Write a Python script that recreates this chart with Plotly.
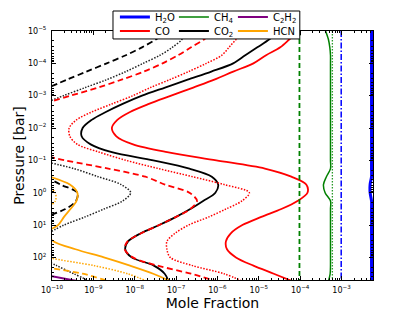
import plotly.graph_objects as go

# ---------------- data ----------------
pressure_bar = [1e-5, 1.8e-5, 3.2e-5, 5.6e-5, 1e-4, 1.8e-4, 3.2e-4, 5.6e-4,
                1e-3, 1.8e-3, 3.2e-3, 5.6e-3, 1e-2, 1.8e-2, 3.2e-2, 5.6e-2,
                0.1, 0.18, 0.32, 0.56, 1.0, 1.8, 3.2, 5.6,
                10, 18, 32, 56, 100, 180, 320, 560]
pressure_ends = [1e-5, 560]

co_solid = [9.0e-5, 5.5e-5, 3.3e-5, 1.5e-5, 7.4e-6, 2.4e-6, 8.4e-7, 2.6e-7,
            7.6e-8, 2.2e-8, 7.7e-9, 3.8e-9, 2.8e-9, 3.6e-9, 9.1e-9, 6.1e-8,
            9.4e-7, 1.4e-5, 6.1e-5, 1.4e-4, 1.5e-4, 8.6e-5, 3.5e-5, 1.15e-5,
            4.0e-6, 2.1e-6, 1.6e-6, 1.7e-6, 2.8e-6, 7.4e-6, 2.3e-5, 6.8e-5]
co_dashed = [8.9e-7, 4.8e-7, 2.3e-7, 1.12e-7, 4.7e-8, 1.66e-8, 4.8e-9, 1.32e-9,
             2.8e-10, 6e-11, None, None, None, None, None, 3e-11,
             2.1e-10, 2.3e-9, 1.8e-8, 5.4e-8, 2.1e-7, 3.2e-7, 2.2e-7, 1.0e-7,
             3.9e-8, 1.43e-8, 6.7e-9, 5.7e-9, 9.0e-9, 3.6e-8, 2.3e-7, 9.9e-7]
co_dotted = [4.7e-6, 2.85e-6, 1.9e-6, 1.28e-6, 5.4e-7, 2.0e-7, 7.0e-8, 2.4e-8,
             9.0e-9, 2.8e-9, 9.1e-10, 3.9e-10, 2.6e-10, 2.7e-10, 4.1e-10, 1.4e-9,
             6.2e-9, 3.8e-8, 2.5e-7, 1.45e-6, 5.9e-6, 3.9e-6, 1.6e-6, 6.2e-7,
             2.0e-7, 9.4e-8, 6.0e-8, 6.0e-8, 7.2e-8, 2.5e-7, 1.44e-6, 4.2e-6]

co2_solid = [3.0e-5, 1.8e-5, 9.2e-6, 4.7e-6, 2.4e-6, 7.1e-7, 1.9e-7, 5.4e-8,
             1.5e-8, 5.1e-9, 2.0e-9, 9.1e-10, 5.5e-10, 5.2e-10, 8.6e-10, 2.8e-9,
             2.8e-8, 2.1e-7, 7.3e-7, 1.04e-6, 8.9e-7, 4.5e-7, 2.2e-7, 1.0e-7,
             3.9e-8, 1.4e-8, 6.9e-9, 5.9e-9, 8.4e-9, 2.9e-8, 5.3e-8, 6.6e-8]
co2_dashed = [6.4e-8, 3.3e-8, 1.5e-8, 6.1e-9, 2.1e-9, 6.8e-10, 2.3e-10, 8.2e-11,
              None, None, None, None, None, None, None, None,
              None, None, 7.2e-11, 1.6e-10, 4.1e-10, 3.8e-10, 2.1e-10, 6.8e-11,
              None, None, None, None, None, None, None, None]
co2_dotted = [1.8e-7, 1.4e-7, 8.1e-8, 4.1e-8, 1.6e-8, 6.1e-9, 2.1e-9, 6.4e-10,
              1.9e-10, 6e-11, None, None, None, None, None, None,
              5e-11, 3.4e-10, 1.3e-9, 4.7e-9, 8.0e-9, 5.1e-9, 1.8e-9, 6.3e-10,
              1.95e-10, 8e-11, None, None, 5e-11, 1.3e-10, 3.35e-10, 8.6e-10]

hcn_solid = [None, None, None, None, None, None, None, None,
             None, None, None, None, None, None, None, None,
             None, None, 8.9e-11, 2.7e-10, 4.1e-10, 3.9e-10, 2.8e-10, 1.95e-10,
             1.4e-10, 7e-11, 1.1e-10, 3.7e-10, 1.8e-9, 7.7e-9, 2.8e-8, 7.6e-8]
hcn_dashed = [None, None, None, None, None, None, None, None,
              None, None, None, None, None, None, None, None,
              None, None, None, None, None, None, None, None,
              None, None, None, None, None, 3.9e-11, 5.5e-10, 2.5e-9]
hcn_dotted = [None, None, None, None, None, None, None, None,
              None, None, None, None, None, None, None, None,
              None, None, None, 7e-11, 1.2e-10, 1.2e-10, 7e-11, None,
              None, None, None, 3e-11, 8.5e-11, 1.05e-9, 6.7e-9, 2.1e-8]

c2h2_solid = [None, None, None, None, None, None, None, None,
              None, None, None, None, None, None, None, None,
              None, None, None, None, None, None, None, None,
              None, None, None, None, None, None, 4.7e-11, 4.8e-10]

ch4_solid = [4.1e-4, 4.8e-4, 5.2e-4, 5.4e-4, 5.4e-4, 5.4e-4, 5.4e-4, 5.4e-4,
             5.4e-4, 5.4e-4, 5.4e-4, 5.4e-4, 5.4e-4, 5.4e-4, 5.4e-4, 5.4e-4,
             5.4e-4, 5.4e-4, 4.3e-4, 3.65e-4, 4.0e-4, 5.4e-4, 5.4e-4, 5.4e-4,
             5.4e-4, 5.4e-4, 5.4e-4, 5.4e-4, 5.4e-4, 5.4e-4, 5.3e-4, 4.8e-4]
ch4_dashed = [9.6e-5, 9.6e-5]
ch4_dotted = [6.0e-4, 6.0e-4]

h2o_solid = [5.3e-3, 5.3e-3, 5.3e-3, 5.3e-3, 5.3e-3, 5.3e-3, 5.3e-3, 5.3e-3,
             5.3e-3, 5.3e-3, 5.3e-3, 5.3e-3, 5.3e-3, 5.3e-3, 5.3e-3, 5.3e-3,
             5.3e-3, 5.3e-3, 5.3e-3, 4.9e-3, 4.9e-3, 5.3e-3, 5.3e-3, 5.3e-3,
             5.3e-3, 5.3e-3, 5.3e-3, 5.3e-3, 5.3e-3, 5.3e-3, 5.3e-3, 5.3e-3]
h2o_dashdot = [9.8e-4, 9.8e-4]

x_tick_vals = [1e-10, 1e-9, 1e-8, 1e-7, 1e-6, 1e-5, 1e-4, 1e-3]
x_tick_text = ["10<sup>−10</sup>", "10<sup>−9</sup>", "10<sup>−8</sup>", "10<sup>−7</sup>",
               "10<sup>−6</sup>", "10<sup>−5</sup>", "10<sup>−4</sup>", "10<sup>−3</sup>"]
y_tick_vals = [1e-5, 1e-4, 1e-3, 1e-2, 1e-1, 1, 10, 100]
y_tick_text = ["10<sup>−5</sup>", "10<sup>−4</sup>", "10<sup>−3</sup>", "10<sup>−2</sup>",
               "10<sup>−1</sup>", "10<sup>0</sup>", "10<sup>1</sup>", "10<sup>2</sup>"]

x_range_log = [-10, -2.24]
y_range_log = [2.699, -5]

# ---------------- styling ----------------
BLUE, RED, GREEN, BLACK, PURPLE, ORANGE = "#0000ff", "#ff0000", "#008000", "#000000", "#800080", "#ffa500"
DASH = "6px,3.5px"
DOT = "1.5px,1.5px"
DASHDOT = "6px,2px,1.5px,2px"
FONT = "DejaVu Sans"

fig = go.Figure()


def add(x, y, color, width, dash="solid", name=None, legend=None, rank=None, smooth=True):
    fig.add_trace(go.Scatter(
        x=x, y=y, mode="lines",
        line=dict(color=color, width=width, dash=dash,
                  shape="spline" if smooth else "linear", smoothing=0.9),
        name=name if name else "", showlegend=name is not None,
        legend=legend if legend else "legend",
        legendrank=rank if rank else 1000,
        hoverinfo="skip", connectgaps=False))


# CO2 (black)
add(co2_solid, pressure_bar, BLACK, 1.8, name="CO<sub>2</sub>", legend="legend2", rank=2)
add(co2_dashed, pressure_bar, BLACK, 1.8, DASH)
add(co2_dotted, pressure_bar, "#222222", 1.5, DOT)
# CO (red)
add(co_solid, pressure_bar, RED, 1.8, name="CO", legend="legend2", rank=1)
add(co_dashed, pressure_bar, RED, 1.8, DASH)
add(co_dotted, pressure_bar, RED, 1.5, DOT)
# HCN (orange)
add(hcn_solid, pressure_bar, ORANGE, 1.8, name="HCN", legend="legend2", rank=3)
add(hcn_dashed, pressure_bar, ORANGE, 1.8, DASH)
add(hcn_dotted, pressure_bar, ORANGE, 1.5, DOT)
# C2H2 (purple)
add(c2h2_solid, pressure_bar, PURPLE, 2.0, name="C<sub>2</sub>H<sub>2</sub>", legend="legend", rank=3)
# CH4 (green)
add(ch4_solid, pressure_bar, GREEN, 1.5, name="CH<sub>4</sub>", legend="legend", rank=2)
add(ch4_dashed, pressure_ends, GREEN, 1.8, "5px,3px", smooth=False)
add(ch4_dotted, pressure_ends, "#2a9a2a", 1.3, DOT, smooth=False)
# H2O (blue)
add(h2o_dashdot, pressure_ends, BLUE, 1.5, DASHDOT, smooth=False)
add(h2o_solid, pressure_bar, BLUE, 3.0, name="H<sub>2</sub>O", legend="legend", rank=1)

# empty spacer entries so the last legend texts are not clipped
for lg in ("legend", "legend2"):
    fig.add_trace(go.Scatter(x=[None], y=[None], mode="lines", name=" ",
                             line=dict(width=0, color="rgba(0,0,0,0)"),
                             legend=lg, legendrank=9, showlegend=True, hoverinfo="skip"))

axis_common = dict(
    type="log", showline=True, linecolor="black", linewidth=1, mirror="allticks",
    ticks="inside", ticklen=4, tickcolor="black", tickwidth=1,
    tickmode="array",
    showgrid=False, zeroline=False, automargin=False,
    tickfont=dict(family=FONT, size=8, color="black"),
    minor=dict(ticks="inside", ticklen=2, tickcolor="black", dtick="D1", showgrid=False),
)

# the page body adds an 8 px offset, so the figure is 8 px smaller than the window
fig.update_layout(
    template="none",
    width=407, height=304,
    margin=dict(l=44, r=42, t=23, b=32, autoexpand=False),
    paper_bgcolor="white", plot_bgcolor="white",
    font=dict(family=FONT, color="black"),
    xaxis=dict(axis_common, range=x_range_log, tickvals=x_tick_vals, ticktext=x_tick_text,
               ticklabelstandoff=2,
               title=dict(text="Mole Fraction", font=dict(family=FONT, size=14), standoff=1)),
    yaxis=dict(axis_common, range=y_range_log, tickvals=y_tick_vals, ticktext=y_tick_text,
               ticklabelstandoff=3,
               title=dict(text="Pressure [bar]", font=dict(family=FONT, size=14), standoff=0)),
    legend=dict(orientation="h", x=0.196, xanchor="left", y=1.056, yanchor="middle",
                bgcolor="rgba(0,0,0,0)", borderwidth=0, entrywidth=14,
                font=dict(family=FONT, size=10), itemwidth=30),
    legend2=dict(orientation="h", x=0.196, xanchor="left", y=1.0, yanchor="middle",
                 bgcolor="rgba(0,0,0,0)", borderwidth=0, entrywidth=14,
                 font=dict(family=FONT, size=10), itemwidth=30),
    shapes=[dict(type="rect", xref="paper", yref="paper", layer="above",
                 x0=0.19, x1=0.772, y0=0.968, y1=1.0803,
                 line=dict(color="black", width=1), fillcolor="white")],
    showlegend=True,
)

fig.write_html("out.html")
